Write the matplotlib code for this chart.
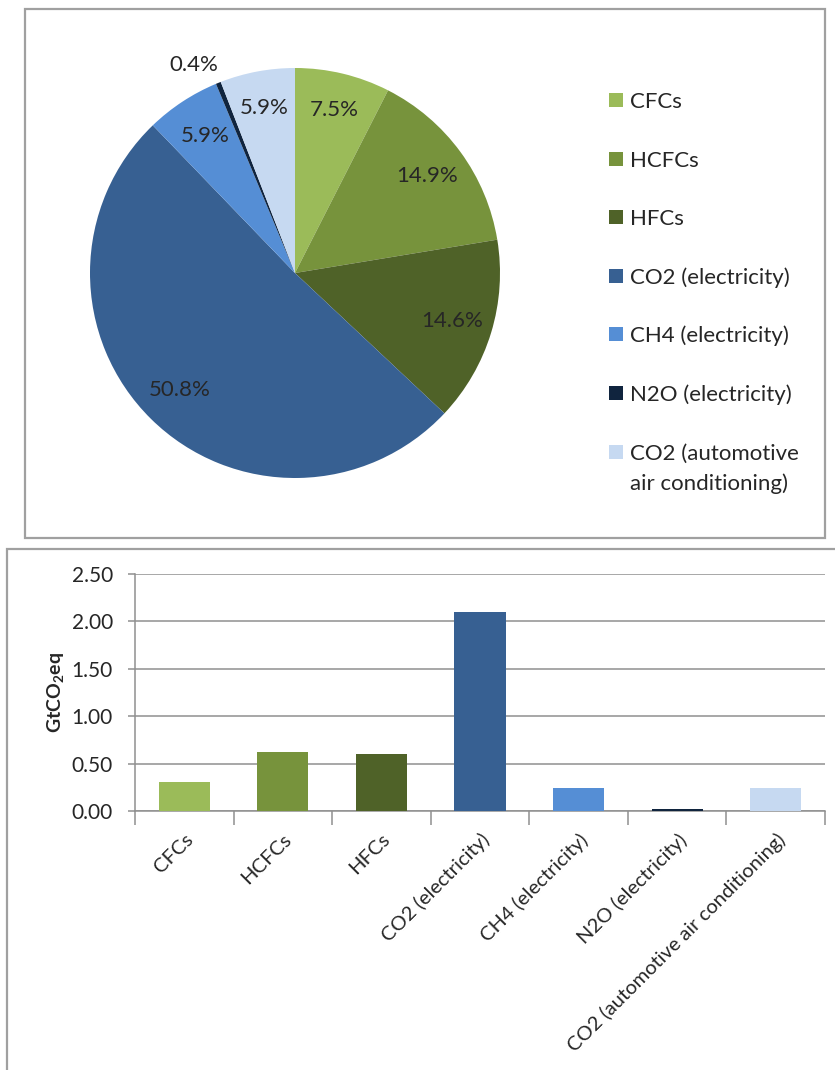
import numpy as np
import matplotlib.pyplot as plt
from matplotlib.patches import Rectangle

plt.rcParams['font.family'] = ['Lato', 'DejaVu Sans']
plt.rcParams['mathtext.fontset'] = 'custom'
plt.rcParams['mathtext.rm'] = 'Lato'
plt.rcParams['mathtext.bf'] = 'Lato:bold'

# emission sources
categories = ['CFCs', 'HCFCs', 'HFCs', 'CO2 (electricity)', 'CH4 (electricity)',
              'N2O (electricity)', 'CO2 (automotive air conditioning)']
legend_lines = [['CFCs'], ['HCFCs'], ['HFCs'], ['CO2 (electricity)'], ['CH4 (electricity)'],
                ['N2O (electricity)'], ['CO2 (automotive', 'air conditioning)']]
shares = [7.5, 14.9, 14.6, 50.8, 5.9, 0.4, 5.9]           # % of total
emissions = [0.31, 0.62, 0.60, 2.10, 0.24, 0.02, 0.24]     # GtCO2eq
colors = ['#9BBB59', '#77933C', '#4F6228', '#376092', '#558ED5', '#10243E', '#C6D9F1']
y_ticks = [0.0, 0.5, 1.0, 1.5, 2.0, 2.5]

W, H = 835, 1070
fig = plt.figure(figsize=(W / 100, H / 100), dpi=100)
text_col = '#262626'
gray = '#8f8f8f'


def px_box(x0, y0, x1, y1):
    # pixel box (top-left origin) -> figure fraction rect
    return [x0 / W, 1 - y1 / H, (x1 - x0) / W, (y1 - y0) / H]


# panel frames
for frame in [(25, 9, 825, 538), (7, 549, 850, 1085)]:
    r = px_box(*frame)
    fig.add_artist(Rectangle((r[0], r[1]), r[2], r[3], transform=fig.transFigure,
                             fill=False, ec='#a0a0a0', lw=1.6))

# ---- pie ----
ax1 = fig.add_axes(px_box(90, 68, 500, 478))
wedges, _ = ax1.pie(shares, colors=colors, startangle=90, counterclock=False,
                    wedgeprops=dict(linewidth=0))
ax1.set_xlim(-1, 1)
ax1.set_ylim(-1, 1)
label_r = [0.82, 0.80, 0.80, 0.80, 0.80, 1.13, 0.82]
label_shift = [0, 0, 0, 0, 0, 4, 0]
for w, s, r, d in zip(wedges, shares, label_r, label_shift):
    ang = np.deg2rad((w.theta1 + w.theta2) / 2 + d)
    ax1.text(r * np.cos(ang), r * np.sin(ang), f'{s}%', ha='center', va='center',
             fontsize=16, color=text_col)

# legend
for i, (lines, c) in enumerate(zip(legend_lines, colors)):
    yc = 100 + 58.6 * i
    sq = px_box(609, yc - 7, 623, yc + 7)
    fig.add_artist(Rectangle((sq[0], sq[1]), sq[2], sq[3], transform=fig.transFigure,
                             fc=c, ec='none'))
    for j, line in enumerate(lines):
        fig.text(630 / W, 1 - (yc + 8 + 30 * j) / H, line, ha='left', va='baseline',
                 fontsize=16, color=text_col)

# ---- bars ----
ax2 = fig.add_axes(px_box(135, 574, 825, 811))
x = np.arange(len(categories))
ax2.bar(x, emissions, width=0.52, color=colors, zorder=3)
ax2.set_xlim(-0.5, len(categories) - 0.5)
ax2.set_ylim(0, 2.5)
ax2.set_yticks(y_ticks)
ax2.set_yticklabels([f'{v:.2f}' for v in y_ticks])
ax2.yaxis.grid(True, color=gray, lw=1.1)
ax2.set_axisbelow(True)
ax2.set_xticks(x)
ax2.set_xticklabels(categories, rotation=45, ha='right', rotation_mode='anchor')
ax2.set_xticks(np.arange(-0.5, len(categories), 1), minor=True)
ax2.tick_params(axis='x', which='major', length=0, pad=14, labelsize=14.5, labelcolor=text_col)
ax2.tick_params(axis='x', which='minor', length=10, width=1.1, color=gray)
ax2.tick_params(axis='y', length=5, width=1.1, color=gray, pad=11, labelsize=15, labelcolor=text_col)
for s in ['top', 'right']:
    ax2.spines[s].set_visible(False)
for s in ['left', 'bottom']:
    ax2.spines[s].set_color(gray)
    ax2.spines[s].set_linewidth(1.1)
ax2.set_ylabel(r'$\mathbf{GtCO_2eq}$', fontsize=14, color=text_col, labelpad=4)

fig.savefig('out.png', dpi=100)
